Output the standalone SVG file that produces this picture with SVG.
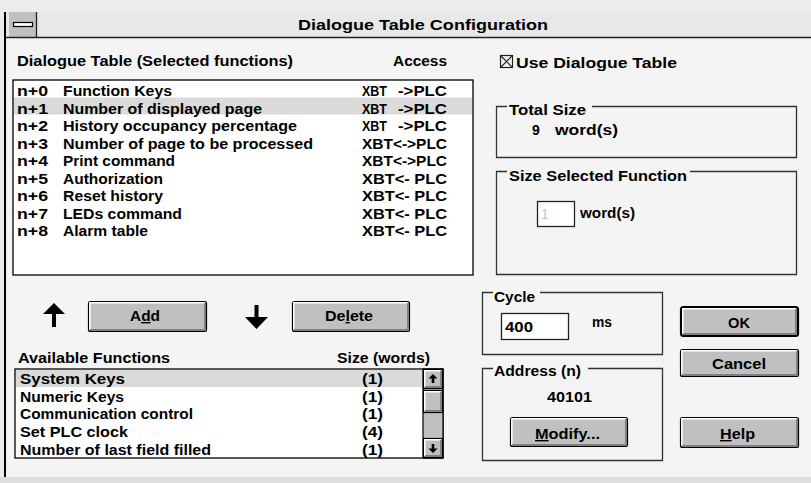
<svg xmlns="http://www.w3.org/2000/svg" width="811" height="483" viewBox="0 0 811 483">
<defs>
<style>
text{font-family:"Liberation Sans",Arial,sans-serif;font-weight:bold;font-size:14px;fill:#000}
.t15{font-size:15.5px}
.frame{fill:#fff;stroke:#000;stroke-width:1.3}
.grp{fill:none;stroke:#333;stroke-width:1.3}
.btn{fill:#c0c0c0;stroke:#000;stroke-width:1.2}
.hi{fill:none;stroke:#fff;stroke-width:1.5}
.sh{fill:none;stroke:#808080;stroke-width:2}
.mid{text-anchor:middle}
.sel{fill:#dadada}
.edit{fill:#fff;stroke:#222;stroke-width:1.3}
</style>
</defs>
<rect x="0" y="0" width="811" height="483" fill="#ececec"/>
<rect x="5" y="37" width="806" height="440" fill="#f4f4f4"/>
<rect x="0" y="477" width="811" height="6" fill="#dedede"/>

<g id="titlebar">
<rect x="5" y="12" width="806" height="25" fill="#e8e8e8"/>
<rect x="9" y="12" width="27" height="25" fill="#c0c0c0"/>
<line x1="36.5" y1="12" x2="36.5" y2="37" stroke="#222" stroke-width="1.3"/>
<rect x="13.5" y="22.5" width="19" height="4" fill="#fff" stroke="#000" stroke-width="1.2"/>
<line x1="5" y1="37.5" x2="811" y2="37.5" stroke="#222" stroke-width="1.5"/>
<text x="298" y="29.5" class="t15" textLength="250" lengthAdjust="spacingAndGlyphs">Dialogue Table Configuration</text>
</g>
<line x1="5" y1="12" x2="5" y2="477" stroke="#000" stroke-width="2"/>

<g id="selected-list">
<text x="17" y="66" textLength="276" lengthAdjust="spacingAndGlyphs">Dialogue Table (Selected functions)</text>
<text x="393" y="66" textLength="54" lengthAdjust="spacingAndGlyphs">Access</text>
<rect class="frame" x="13" y="80" width="460" height="195"/>
<rect class="sel" x="14" y="97.5" width="458" height="17"/>
<text x="17" y="96" textLength="31" lengthAdjust="spacingAndGlyphs">n+0</text><text x="63" y="96" textLength="109" lengthAdjust="spacingAndGlyphs">Function Keys</text><text x="362" y="96" textLength="25" lengthAdjust="spacingAndGlyphs">XBT</text><text x="398" y="96" textLength="49" lengthAdjust="spacingAndGlyphs">-&gt;PLC</text>
<text x="17" y="113.5" textLength="31" lengthAdjust="spacingAndGlyphs">n+1</text><text x="63" y="113.5" textLength="199" lengthAdjust="spacingAndGlyphs">Number of displayed page</text><text x="362" y="113.5" textLength="25" lengthAdjust="spacingAndGlyphs">XBT</text><text x="398" y="113.5" textLength="49" lengthAdjust="spacingAndGlyphs">-&gt;PLC</text>
<text x="17" y="131" textLength="31" lengthAdjust="spacingAndGlyphs">n+2</text><text x="63" y="131" textLength="234" lengthAdjust="spacingAndGlyphs">History occupancy percentage</text><text x="362" y="131" textLength="25" lengthAdjust="spacingAndGlyphs">XBT</text><text x="398" y="131" textLength="49" lengthAdjust="spacingAndGlyphs">-&gt;PLC</text>
<text x="17" y="148.5" textLength="31" lengthAdjust="spacingAndGlyphs">n+3</text><text x="63" y="148.5" textLength="250" lengthAdjust="spacingAndGlyphs">Number of page to be processed</text><text x="362" y="148.5" textLength="85" lengthAdjust="spacingAndGlyphs">XBT&lt;-&gt;PLC</text>
<text x="17" y="166" textLength="31" lengthAdjust="spacingAndGlyphs">n+4</text><text x="63" y="166" textLength="112" lengthAdjust="spacingAndGlyphs">Print command</text><text x="362" y="166" textLength="85" lengthAdjust="spacingAndGlyphs">XBT&lt;-&gt;PLC</text>
<text x="17" y="183.5" textLength="31" lengthAdjust="spacingAndGlyphs">n+5</text><text x="63" y="183.5" textLength="100" lengthAdjust="spacingAndGlyphs">Authorization</text><text x="362" y="183.5" textLength="85" lengthAdjust="spacingAndGlyphs">XBT&lt;- PLC</text>
<text x="17" y="201" textLength="31" lengthAdjust="spacingAndGlyphs">n+6</text><text x="63" y="201" textLength="100" lengthAdjust="spacingAndGlyphs">Reset history</text><text x="362" y="201" textLength="85" lengthAdjust="spacingAndGlyphs">XBT&lt;- PLC</text>
<text x="17" y="218.5" textLength="31" lengthAdjust="spacingAndGlyphs">n+7</text><text x="63" y="218.5" textLength="119" lengthAdjust="spacingAndGlyphs">LEDs command</text><text x="362" y="218.5" textLength="85" lengthAdjust="spacingAndGlyphs">XBT&lt;- PLC</text>
<text x="17" y="236" textLength="31" lengthAdjust="spacingAndGlyphs">n+8</text><text x="63" y="236" textLength="85" lengthAdjust="spacingAndGlyphs">Alarm table</text><text x="362" y="236" textLength="85" lengthAdjust="spacingAndGlyphs">XBT&lt;- PLC</text>
</g>

<g id="add">
<path d="M54,303 L43,314 L52,314 L52,327 L56,327 L56,314 L65,314 Z" fill="#000"/>
<rect class="btn" x="88.5" y="301.5" width="118" height="30" rx="2"/>
<polyline class="hi" points="89.8,330 89.8,302.8 205,302.8"/>
<polyline class="sh" points="205,303 205,330 90,330"/>
<text x="130" y="321" textLength="30" lengthAdjust="spacingAndGlyphs">A<tspan text-decoration="underline">d</tspan>d</text>
</g>

<g id="delete">
<path d="M254.5,305 L258.5,305 L258.5,317 L268,317 L256.5,329 L245,317 L254.5,317 Z" fill="#000"/>
<rect class="btn" x="292.5" y="301.5" width="117" height="30" rx="2"/>
<polyline class="hi" points="293.8,330 293.8,302.8 408,302.8"/>
<polyline class="sh" points="408,303 408,330 294,330"/>
<text x="325" y="321" textLength="48" lengthAdjust="spacingAndGlyphs">De<tspan text-decoration="underline">l</tspan>ete</text>
</g>

<g id="available-list">
<text x="18" y="363" textLength="152" lengthAdjust="spacingAndGlyphs">Available Functions</text>
<text x="337" y="363" textLength="93" lengthAdjust="spacingAndGlyphs">Size (words)</text>
<rect class="frame" x="15" y="369" width="428" height="89"/>
<rect class="sel" x="16" y="370" width="407" height="17"/>
<text x="20" y="384" textLength="105" lengthAdjust="spacingAndGlyphs">System Keys</text><text x="362" y="384" textLength="21" lengthAdjust="spacingAndGlyphs">(1)</text>
<text x="20" y="401.7" textLength="104" lengthAdjust="spacingAndGlyphs">Numeric Keys</text><text x="362" y="401.7" textLength="21" lengthAdjust="spacingAndGlyphs">(1)</text>
<text x="20" y="419.4" textLength="173" lengthAdjust="spacingAndGlyphs">Communication control</text><text x="362" y="419.4" textLength="21" lengthAdjust="spacingAndGlyphs">(1)</text>
<text x="20" y="437.1" textLength="108" lengthAdjust="spacingAndGlyphs">Set PLC clock</text><text x="362" y="437.1" textLength="21" lengthAdjust="spacingAndGlyphs">(4)</text>
<text x="20" y="454.8" textLength="191" lengthAdjust="spacingAndGlyphs">Number of last field filled</text><text x="362" y="454.8" textLength="21" lengthAdjust="spacingAndGlyphs">(1)</text>
<g id="scrollbar">
<rect x="423" y="369" width="20" height="89" fill="#c0c0c0" stroke="#000" stroke-width="1.2"/>
<rect class="btn" x="423.5" y="369.5" width="19" height="19"/>
<polyline class="hi" points="424.8,387 424.8,370.8 441,370.8"/>
<polyline class="sh" points="441,371 441,387 425,387"/>
<path d="M433,374 L437.5,378.5 L434.3,378.5 L434.3,383 L431.7,383 L431.7,378.5 L428.5,378.5 Z" fill="#000"/>
<rect class="btn" x="423.5" y="390.5" width="19" height="22"/>
<polyline class="hi" points="424.8,411 424.8,391.8 441,391.8"/>
<polyline class="sh" points="441,392 441,411 425,411"/>
<rect class="btn" x="423.5" y="438.5" width="19" height="19"/>
<polyline class="hi" points="424.8,456 424.8,439.8 441,439.8"/>
<polyline class="sh" points="441,440 441,456 425,456"/>
<path d="M433,453 L437.5,448.5 L434.3,448.5 L434.3,444 L431.7,444 L431.7,448.5 L428.5,448.5 Z" fill="#000"/>
</g>
</g>

<g id="use-table">
<rect x="500.5" y="55.5" width="12" height="12" fill="none" stroke="#222" stroke-width="1.2"/>
<path d="M500.5,55.5 L512.5,67.5 M512.5,55.5 L500.5,67.5" stroke="#222" stroke-width="1.2"/>
<text x="516" y="67.5" class="t15" textLength="161" lengthAdjust="spacingAndGlyphs">Use Dialogue Table</text>
</g>

<g id="total-size">
<path class="grp" d="M507,106.5 H496.5 V157.5 H796.5 V106.5 H592"/>
<text x="509" y="115" textLength="77" lengthAdjust="spacingAndGlyphs">Total Size</text>
<text x="532" y="135">9</text>
<text x="555" y="135" textLength="63" lengthAdjust="spacingAndGlyphs">word(s)</text>
</g>

<g id="size-selected">
<path class="grp" d="M507,171.5 H496.5 V274.5 H796.5 V171.5 H690"/>
<text x="509" y="181" textLength="178" lengthAdjust="spacingAndGlyphs">Size Selected Function</text>
<rect class="edit" x="537.5" y="201.5" width="37" height="25"/>
<text x="541" y="219" style="fill:#c4c4c4;font-weight:normal">1</text>
<text x="580" y="218" textLength="55" lengthAdjust="spacingAndGlyphs">word(s)</text>
</g>

<g id="cycle">
<path class="grp" d="M493,292.5 H482.5 V354.5 H662.5 V292.5 H540"/>
<text x="494" y="302" textLength="41" lengthAdjust="spacingAndGlyphs">Cycle</text>
<rect class="edit" x="501.5" y="313.5" width="67" height="26"/>
<text x="505" y="332" textLength="28" lengthAdjust="spacingAndGlyphs">400</text>
<text x="592" y="327" textLength="20" lengthAdjust="spacingAndGlyphs">ms</text>
</g>

<g id="address">
<path class="grp" d="M493,368.5 H482.5 V460.5 H662.5 V368.5 H588"/>
<text x="494" y="376" textLength="87" lengthAdjust="spacingAndGlyphs">Address (n)</text>
<text x="547" y="402" textLength="45" lengthAdjust="spacingAndGlyphs">40101</text>
<rect class="btn" x="510.5" y="417.5" width="117" height="29" rx="2"/>
<polyline class="hi" points="511.8,445 511.8,418.8 626,418.8"/>
<polyline class="sh" points="626,419 626,445 512,445"/>
<text x="535" y="439" textLength="65" lengthAdjust="spacingAndGlyphs"><tspan text-decoration="underline">M</tspan>odify...</text>
</g>

<g id="ok">
<rect x="681" y="307" width="117" height="29" rx="2.5" fill="#c0c0c0" stroke="#000" stroke-width="2.2"/>
<polyline class="hi" points="682.8,334 682.8,308.8 796,308.8"/>
<polyline class="sh" points="796,309 796,334 683,334"/>
<text x="728" y="328" textLength="22" lengthAdjust="spacingAndGlyphs">OK</text>
</g>

<g id="cancel">
<rect class="btn" x="680.5" y="349.5" width="118" height="27" rx="2"/>
<polyline class="hi" points="681.8,375 681.8,350.8 797,350.8"/>
<polyline class="sh" points="797,351 797,375 682,375"/>
<text x="712" y="369" textLength="54" lengthAdjust="spacingAndGlyphs">Cancel</text>
</g>

<g id="help">
<rect class="btn" x="680.5" y="417.5" width="118" height="30" rx="2"/>
<polyline class="hi" points="681.8,446 681.8,418.8 797,418.8"/>
<polyline class="sh" points="797,419 797,446 682,446"/>
<text x="720" y="439" textLength="35" lengthAdjust="spacingAndGlyphs"><tspan text-decoration="underline">H</tspan>elp</text>
</g>

<g id="connectors"></g>
</svg>
